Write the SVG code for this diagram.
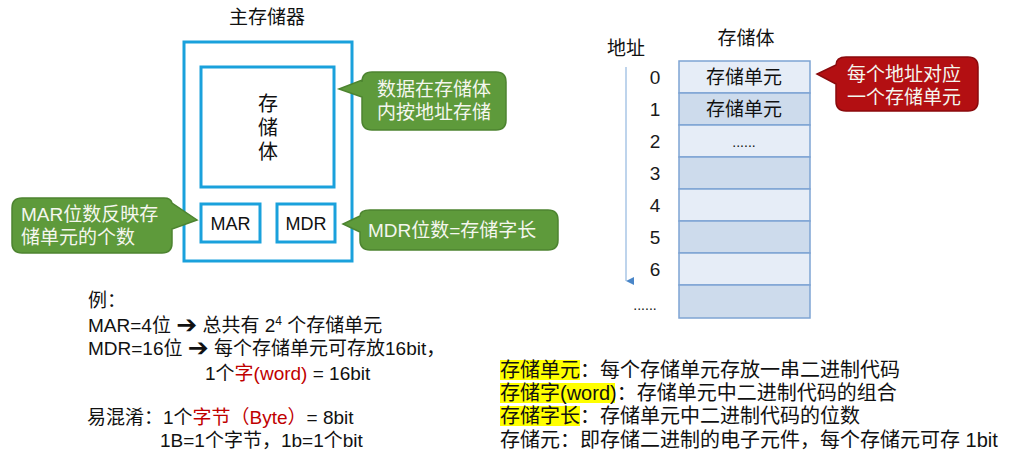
<svg xmlns="http://www.w3.org/2000/svg" width="1014" height="467" viewBox="0 0 1014 467">
<style>
text{font-family:"Liberation Sans","Noto Sans CJK SC",sans-serif;fill:#111}
.blue{fill:none;stroke:#1aa1dc;stroke-width:3}
.green{fill:#5e9a3b;stroke:#4d8430;stroke-width:1.5}
.red{fill:#b30f12;stroke:#8a0a0c;stroke-width:1.5}
.wt{fill:#f4f6ee;font-size:19px}
.cell1{fill:#e6edf7;stroke:#7ea4d3;stroke-width:1.5}
.cell2{fill:#cddbec;stroke:#7ea4d3;stroke-width:1.5}
.num{font-size:19px;text-anchor:middle;fill:#1a1a1a}
.hl{fill:#ffff00}
.rd{fill:#c00000}
.arr{font-family:"DejaVu Sans",sans-serif;font-size:25px}
</style>
<defs>
<marker id="ah" viewBox="0 0 10 10" refX="5" refY="10" markerWidth="8" markerHeight="8" markerUnits="userSpaceOnUse" orient="auto-start-reverse">
<path d="M0,0 L10,0 L5,10 Z" fill="#4a86c8"/>
</marker>
</defs>
<rect width="1014" height="467" fill="#ffffff"/>

<g id="main-memory">
<text x="267" y="24" font-size="19" text-anchor="middle">主存储器</text>
<rect class="blue" x="184" y="42" width="168" height="219"/>
</g>
<g id="storage-body">
<rect class="blue" x="201" y="67" width="133" height="120"/>
<text x="268" y="111" font-size="20" text-anchor="middle">存</text>
<text x="268" y="135" font-size="20" text-anchor="middle">储</text>
<text x="268" y="159" font-size="20" text-anchor="middle">体</text>
</g>
<g id="mar">
<rect class="blue" x="201" y="204" width="59" height="38"/>
<text x="230.5" y="230" font-size="18" text-anchor="middle">MAR</text>
</g>
<g id="mdr">
<rect class="blue" x="277" y="204" width="58" height="38"/>
<text x="306" y="230" font-size="18" text-anchor="middle">MDR</text>
</g>

<g id="callout-storage">
<path class="green" d="M372,72 H496 Q506,72 506,82 V120 Q506,130 496,130 H372 Q362,130 362,120 V97 L339,89 L362,80 V82 Q362,72 372,72 Z"/>
<text class="wt" x="434" y="96" text-anchor="middle">数据在存储体</text>
<text class="wt" x="434" y="119" text-anchor="middle">内按地址存储</text>
</g>
<g id="callout-mar">
<path class="green" d="M22,198 H164 Q171,198 172,203 L197,220 L172,229 V243 Q172,253 162,253 H22 Q12,253 12,243 V208 Q12,198 22,198 Z"/>
<text class="wt" x="21" y="221">MAR位数反映存</text>
<text class="wt" x="21" y="244">储单元的个数</text>
</g>
<g id="callout-mdr">
<path class="green" d="M370,210 H548 Q558,210 558,220 V240 Q558,250 548,250 H370 Q360,250 360,240 V232 L343,224 L360,216 Q360,210 370,210 Z"/>
<text class="wt" x="368" y="237">MDR位数=存储字长</text>
</g>

<g id="address-axis">
<text x="607" y="55" font-size="19">地址</text>
<text class="num" x="655" y="84">0</text>
<text class="num" x="655" y="116">1</text>
<text class="num" x="655" y="148">2</text>
<text class="num" x="655" y="180">3</text>
<text class="num" x="655" y="212">4</text>
<text class="num" x="655" y="244">5</text>
<text class="num" x="655" y="276">6</text>
<text x="645" y="310" font-size="14" text-anchor="middle">......</text>
</g>
<g id="connectors">
<line x1="626" y1="67" x2="626" y2="281" stroke="#a9c6e6" stroke-width="1.5" marker-end="url(#ah)"/>
</g>

<g id="storage-array">
<text x="746" y="45" font-size="19" text-anchor="middle">存储体</text>
<rect class="cell1" x="679" y="61" width="131" height="32"/>
<rect class="cell2" x="679" y="93" width="131" height="32"/>
<rect class="cell1" x="679" y="125" width="131" height="32"/>
<rect class="cell2" x="679" y="157" width="131" height="32"/>
<rect class="cell1" x="679" y="189" width="131" height="32"/>
<rect class="cell2" x="679" y="221" width="131" height="32"/>
<rect class="cell1" x="679" y="253" width="131" height="32"/>
<rect class="cell2" x="679" y="285" width="131" height="33"/>
<text x="744" y="84" font-size="19" text-anchor="middle">存储单元</text>
<text x="744" y="116" font-size="19" text-anchor="middle">存储单元</text>
<text x="744" y="147" font-size="14" text-anchor="middle">......</text>
</g>

<g id="callout-address">
<path class="red" d="M846,57 H968 Q978,57 978,67 V101 Q978,111 968,111 H846 Q836,111 836,101 V84 L817,74 L836,65 Q836,57 846,57 Z"/>
<text class="wt" x="904" y="81" text-anchor="middle">每个地址对应</text>
<text class="wt" x="904" y="104" text-anchor="middle">一个存储单元</text>
</g>

<g id="example">
<text x="88" y="307" font-size="19">例：</text>
<text x="88" y="332" font-size="19">MAR=4位 <tspan class="arr" dy="1">➔</tspan><tspan dy="-1"> 总共有 2</tspan><tspan font-size="12" dy="-7">4</tspan><tspan dy="7"> 个存储单元</tspan></text>
<text x="88" y="355" font-size="19">MDR=16位 <tspan class="arr" dy="1">➔</tspan><tspan dy="-1"> 每个存储单元可存放16bit，</tspan></text>
<text x="205" y="380" font-size="19">1个<tspan class="rd">字(word)</tspan> = 16bit</text>
<text x="87" y="424" font-size="19">易混淆：1个<tspan class="rd">字节（Byte）</tspan>= 8bit</text>
<text x="160" y="447" font-size="19">1B=1个字节，1b=1个bit</text>
</g>

<g id="definitions">
<rect class="hl" x="500" y="360" width="80" height="20"/>
<rect class="hl" x="500" y="383" width="115" height="20"/>
<rect class="hl" x="500" y="406" width="80" height="20"/>
<text x="500" y="377" font-size="20">存储单元：每个存储单元存放一串二进制代码</text>
<text x="500" y="400" font-size="20">存储字(word)：存储单元中二进制代码的组合</text>
<text x="500" y="423" font-size="20">存储字长：存储单元中二进制代码的位数</text>
<text x="500" y="447" font-size="20">存储元：即存储二进制的电子元件，每个存储元可存 1bit</text>
</g>
</svg>
